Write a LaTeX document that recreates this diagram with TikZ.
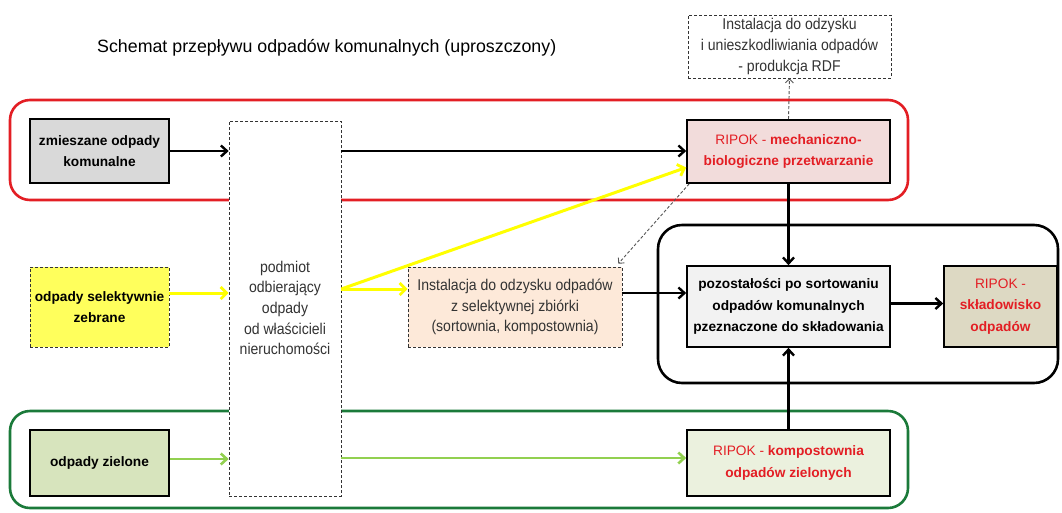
\documentclass[tikz,border=0pt]{standalone}
\usepackage{fontspec}
\setmainfont{Liberation Sans}
\newfontfamily\narrowfont{Liberation Sans}[FakeStretch=0.9]
\usetikzlibrary{arrows.meta}
\definecolor{ripokred}{HTML}{E31E24}
\definecolor{txtgray}{HTML}{333333}
\definecolor{boxgray}{HTML}{D9D9D9}
\definecolor{selyellow}{HTML}{FFFF5C}
\definecolor{zielfill}{HTML}{D7E4BD}
\definecolor{mechfill}{HTML}{F2DCDB}
\definecolor{instfill}{HTML}{FDE9D9}
\definecolor{pozfill}{HTML}{F2F2F2}
\definecolor{sklfill}{HTML}{DDD9C3}
\definecolor{kompfill}{HTML}{EBF1DE}
\definecolor{framegreen}{HTML}{1B7A3A}
\definecolor{yellowline}{HTML}{FFFF00}
\definecolor{greenline}{HTML}{92D050}
\definecolor{dashgray}{HTML}{555555}
\tikzset{
  solidbox/.style={draw=black, line width=1.6pt, inner sep=0pt, align=center},
  dashbox/.style={draw=black!80, densely dashed, line width=0.6pt, inner sep=0pt, align=center},
  boldtxt/.style={font=\fontsize{13.7}{21.5}\selectfont\bfseries},
  normtxt/.style={font=\fontsize{15.6}{20.6}\selectfont\narrowfont, text=txtgray},
  frame/.style={line width=2.6pt, rounded corners=20pt},
  blkarrow/.style={line width=2.4pt, -{Straight Barb[length=6pt,width=11pt,line width=2.4pt]}},
  yelarrow/.style={yellowline, line width=3pt, -{Straight Barb[length=6pt,width=12pt,line width=2.8pt]}},
  grnarrow/.style={greenline, line width=2.8pt, -{Straight Barb[length=6pt,width=11pt,line width=2.6pt]}},
  dasharrow/.style={dashgray, densely dashed, line width=0.9pt, -{Straight Barb[length=4pt,width=8pt]}},
}
\begin{document}
\begin{tikzpicture}[x=1pt,y=-1pt]
\useasboundingbox[fill=white] (0,0) rectangle (1062,512);

% frames
\draw[frame, ripokred] (10,100) rectangle (908,200);
\draw[frame, black, rounded corners=24pt] (658,225) rectangle (1058,383);
\draw[frame, framegreen] (10,411) rectangle (908,508);

% title
\node[font=\fontsize{17.8}{20}\selectfont, anchor=west, inner sep=0pt] (title) at (97,48) {Schemat przepływu odpadów komunalnych (uproszczony)};

% nodes
\node[solidbox, boldtxt, fill=boxgray, minimum width=139pt, minimum height=64pt] (zm) at (99.5,151) {zmieszane odpady\\komunalne};
\node[dashbox, boldtxt, fill=selyellow, minimum width=139pt, minimum height=80pt] (sel) at (99.5,307) {odpady selektywnie\\zebrane};
\node[solidbox, boldtxt, fill=zielfill, minimum width=139pt, minimum height=66pt] (ziel) at (99.5,463) {odpady zielone};
\node[dashbox, normtxt, fill=white, minimum width=112pt, minimum height=375pt] (pod) at (285,308.5) {};
\node[normtxt, align=center] (podtxt) at (285,308) {podmiot\\odbierający\\odpady\\od właścicieli\\nieruchomości};
\node[dashbox, normtxt, fill=white, minimum width=203pt, minimum height=63pt] (top) at (789.5,46.5) {Instalacja do odzysku\\i unieszkodliwiania odpadów\\- produkcja RDF};
\node[solidbox, boldtxt, text=ripokred, fill=mechfill, minimum width=203pt, minimum height=63pt] (mech) at (788.5,151.5) {{\mdseries RIPOK -} mechaniczno-\\biologiczne przetwarzanie};
\node[dashbox, normtxt, fill=instfill, minimum width=214pt, minimum height=80pt] (inst) at (515,307) {Instalacja do odzysku odpadów\\z selektywnej zbiórki\\(sortownia, kompostownia)};
\node[solidbox, boldtxt, fill=pozfill, minimum width=203pt, minimum height=81pt] (poz) at (788.5,306.5) {pozostałości po sortowaniu\\odpadów komunalnych\\pzeznaczone do składowania};
\node[solidbox, boldtxt, text=ripokred, fill=sklfill, minimum width=113pt, minimum height=81pt] (skl) at (1000.5,306.5) {{\mdseries RIPOK -}\\składowisko\\odpadów};
\node[solidbox, boldtxt, text=ripokred, fill=kompfill, minimum width=203pt, minimum height=66pt] (komp) at (788.5,463) {{\mdseries RIPOK -} kompostownia\\odpadów zielonych};

% connectors
\draw[blkarrow] (zm.east) -- (pod.west |- zm.east);
\draw[blkarrow] (pod.east |- zm.east) -- (mech.west |- zm.east);
\draw[yelarrow] ([yshift=14pt]sel.east) -- ([yshift=14pt]sel.east -| pod.west);
\draw[yelarrow] ([yshift=18pt]inst.west -| pod.east) -- ([yshift=18pt]inst.west);
\draw[yelarrow] ([yshift=18pt]inst.west -| pod.east) -- ([yshift=-16pt]mech.west);
\draw[dasharrow] ([xshift=3pt]mech.south west) -- ([xshift=-4pt,yshift=3pt]inst.north east);
\draw[dasharrow] (mech.north) -- (top.south);
\draw[blkarrow] (mech.south) -- (poz.north);
\draw[blkarrow] ([yshift=14pt]inst.east) -- ([yshift=14pt]inst.east -| poz.west);
\draw[blkarrow] ([yshift=3pt]poz.east) -- ([yshift=3pt]poz.east -| skl.west);
\draw[grnarrow] ([yshift=4pt]ziel.east) -- ([yshift=4pt]ziel.east -| pod.west);
\draw[grnarrow] ([yshift=5pt]komp.west -| pod.east) -- ([yshift=5pt]komp.west);
\draw[blkarrow] (komp.north) -- (poz.south);
\end{tikzpicture}
\end{document}
